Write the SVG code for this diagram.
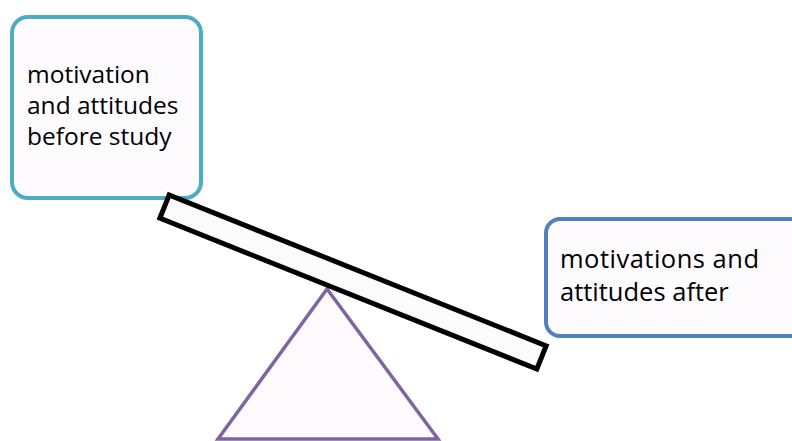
<svg xmlns="http://www.w3.org/2000/svg" width="792" height="441" viewBox="0 0 792 441">
<style>
.box{fill:#fdfbfe;stroke-width:4}
.lbl{font-family:"Open Sans","Noto Sans","Liberation Sans",sans-serif;fill:#000}
.s1{font-size:24.5px}
.s2{font-size:25.5px}
</style>
<rect width="792" height="441" fill="#ffffff"/>
<g id="before">
<rect class="box" x="12" y="17" width="189" height="181" rx="16" stroke="#4bacc6"/>
<text class="lbl s1" x="27" y="83">motivation</text>
<text class="lbl s1" x="27" y="114">and attitudes</text>
<text class="lbl s1" x="27" y="145">before study</text>
</g>
<g id="after">
<rect class="box" x="546" y="219" width="260" height="117" rx="14" stroke="#4f81bd"/>
<text class="lbl s2" x="560" y="268" textLength="199" lengthAdjust="spacing">motivations and</text>
<text class="lbl s2" x="560" y="300.5">attitudes after</text>
</g>
<g id="fulcrum">
<polygon points="327,289 218,439 438,439" fill="#fdfbfe" stroke="#8064a2" stroke-width="3.5" stroke-linejoin="miter"/>
</g>
<g id="plank">
<rect x="-203" y="-12.5" width="406" height="25" transform="translate(353,282) rotate(21.8)" fill="#fdfbfe" stroke="#000" stroke-width="5"/>
</g>
</svg>
